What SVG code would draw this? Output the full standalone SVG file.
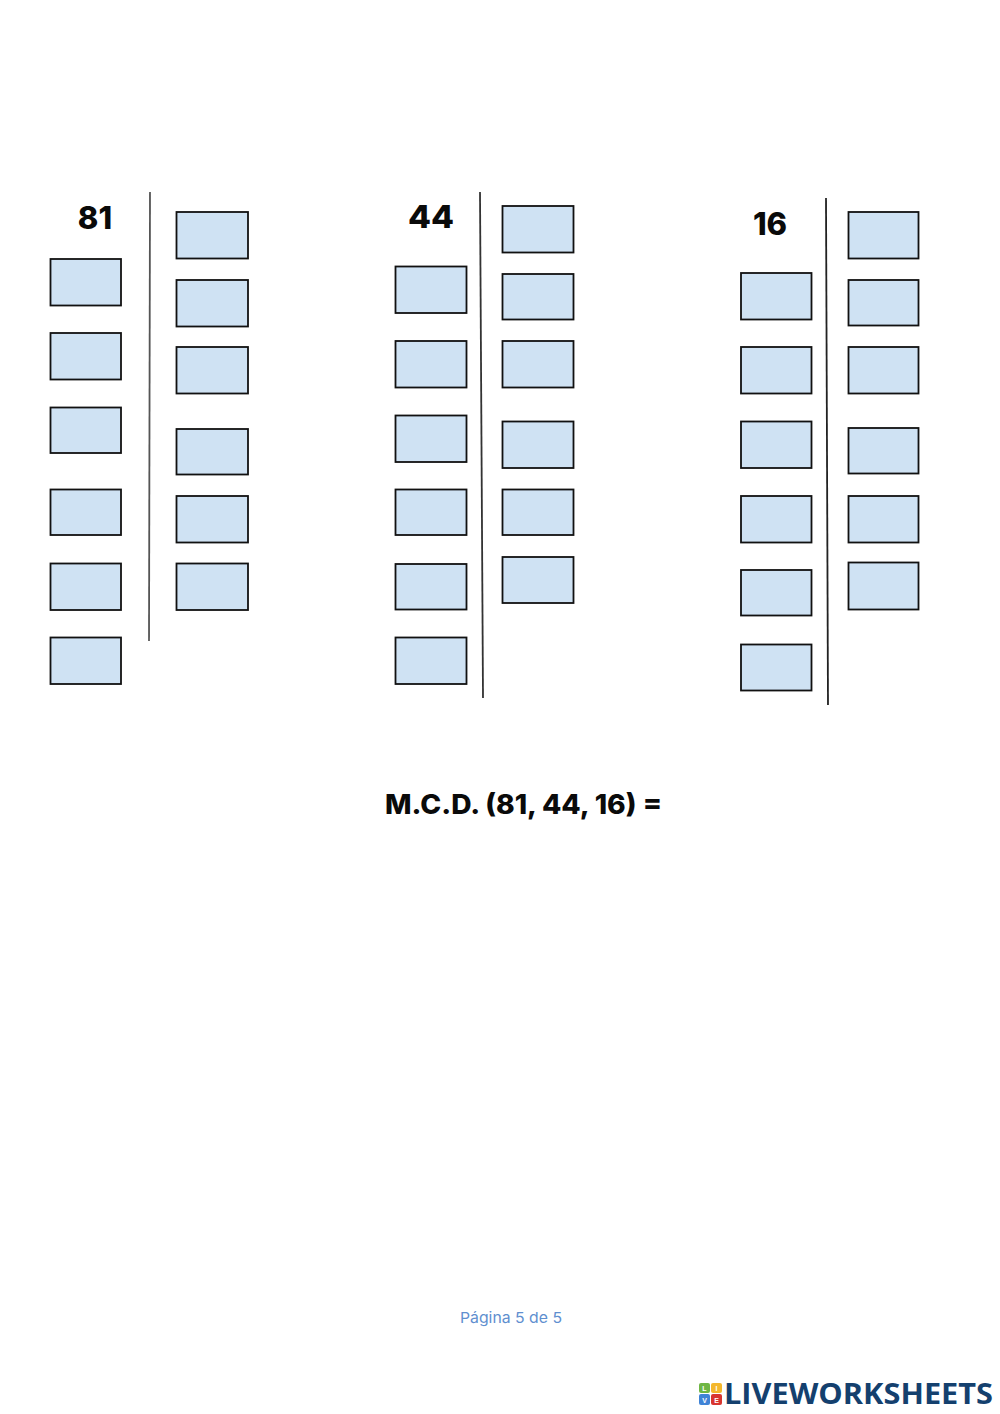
<svg xmlns="http://www.w3.org/2000/svg" width="1000" height="1414" viewBox="0 0 1000 1414">
<style>
.b{fill:#cfe2f3;stroke:#111;stroke-width:1.8}
.l{stroke-width:1.8;fill:none}
.n{font-family:"Inter","Liberation Sans",sans-serif;font-weight:800;fill:#0a0a0a}
.t{font-family:"Liberation Sans",sans-serif;font-weight:700;font-size:7px;fill:#fff;text-anchor:middle}
</style>
<rect width="1000" height="1414" fill="#fff"/>
<g id="connectors">
<line class="l" stroke="#555" x1="150" y1="192" x2="149" y2="641"/>
<line class="l" stroke="#333" x1="480" y1="192" x2="483" y2="698"/>
<line class="l" stroke="#222" x1="826" y1="198" x2="828" y2="705"/>
</g>
<g id="col-81">
<text class="n" x="95" y="229" font-size="31" text-anchor="middle">81</text>
<rect class="b" x="50.500" y="259" width="70.500" height="46.500"/>
<rect class="b" x="50.500" y="333" width="70.500" height="46.500"/>
<rect class="b" x="50.500" y="407.500" width="70.500" height="45.500"/>
<rect class="b" x="50.500" y="489.500" width="70.500" height="45.500"/>
<rect class="b" x="50.500" y="563.500" width="70.500" height="46.500"/>
<rect class="b" x="50.500" y="637.500" width="70.500" height="46.500"/>
<rect class="b" x="176.500" y="212" width="71.500" height="46.500"/>
<rect class="b" x="176.500" y="280" width="71.500" height="46.500"/>
<rect class="b" x="176.500" y="347" width="71.500" height="46.500"/>
<rect class="b" x="176.500" y="429" width="71.500" height="45.500"/>
<rect class="b" x="176.500" y="496" width="71.500" height="46.500"/>
<rect class="b" x="176.500" y="563.500" width="71.500" height="46.500"/>
</g>
<g id="col-44">
<text class="n" x="431" y="228" font-size="31" text-anchor="middle" textLength="46" lengthAdjust="spacingAndGlyphs">44</text>
<rect class="b" x="395.500" y="266.500" width="71" height="46.500"/>
<rect class="b" x="395.500" y="341" width="71" height="46.500"/>
<rect class="b" x="395.500" y="415.500" width="71" height="46.500"/>
<rect class="b" x="395.500" y="489.500" width="71" height="45.500"/>
<rect class="b" x="395.500" y="564" width="71" height="45.500"/>
<rect class="b" x="395.500" y="637.500" width="71" height="46.500"/>
<rect class="b" x="502.500" y="206" width="71" height="46.500"/>
<rect class="b" x="502.500" y="274" width="71" height="45.500"/>
<rect class="b" x="502.500" y="341" width="71" height="46.500"/>
<rect class="b" x="502.500" y="421.500" width="71" height="46.500"/>
<rect class="b" x="502.500" y="489.500" width="71" height="45.500"/>
<rect class="b" x="502.500" y="557" width="71" height="46"/>
</g>
<g id="col-16">
<text class="n" x="770" y="235" font-size="31" text-anchor="middle">16</text>
<rect class="b" x="741" y="273" width="70.500" height="46.500"/>
<rect class="b" x="741" y="347" width="70.500" height="46.500"/>
<rect class="b" x="741" y="421.500" width="70.500" height="46.500"/>
<rect class="b" x="741" y="496" width="70.500" height="46.500"/>
<rect class="b" x="741" y="570" width="70.500" height="45.500"/>
<rect class="b" x="741" y="644.500" width="70.500" height="46"/>
<rect class="b" x="848.500" y="212" width="70" height="46.500"/>
<rect class="b" x="848.500" y="280" width="70" height="45.500"/>
<rect class="b" x="848.500" y="347" width="70" height="46.500"/>
<rect class="b" x="848.500" y="428" width="70" height="45.500"/>
<rect class="b" x="848.500" y="496" width="70" height="46.500"/>
<rect class="b" x="848.500" y="562.500" width="70" height="47"/>
</g>
<g id="result">
<text class="n" x="385" y="814" font-size="27" textLength="277" lengthAdjust="spacingAndGlyphs">M.C.D. (81, 44, 16) =</text>
</g>
<g id="footer">
<text x="511" y="1323" font-family="Inter,'Liberation Sans',sans-serif" font-size="15" fill="#5f8fcf" text-anchor="middle" textLength="102" lengthAdjust="spacingAndGlyphs">Página 5 de 5</text>
</g>
<g id="logo">
<rect x="699" y="1383" width="11" height="10" rx="2" fill="#6fb644"/>
<rect x="711" y="1383" width="11" height="10" rx="2" fill="#f4b72c"/>
<rect x="699" y="1394" width="11" height="11" rx="2" fill="#3f83d6"/>
<rect x="711" y="1394" width="11" height="11" rx="2" fill="#d8352f"/>
<text class="t" x="704.500" y="1391">L</text>
<text class="t" x="716.500" y="1391">I</text>
<text class="t" x="704.500" y="1403">V</text>
<text class="t" x="716.500" y="1403">E</text>
<text x="724" y="1404" font-family="'Open Sans','Liberation Sans',sans-serif" font-weight="700" font-size="29" fill="#14406e" textLength="269" lengthAdjust="spacingAndGlyphs">LIVEWORKSHEETS</text>
</g>
</svg>
